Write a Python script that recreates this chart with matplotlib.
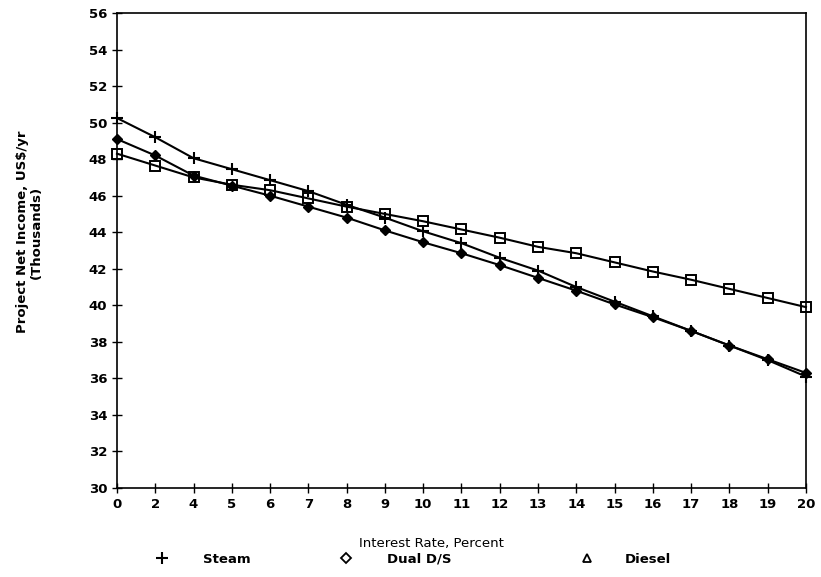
import matplotlib
matplotlib.use("Agg")
import matplotlib.pyplot as plt
from matplotlib.lines import Line2D

# interest rate categories (evenly spaced on the original chart)
rates = ["0", "2", "4", "5", "6", "7", "8", "9", "10", "11", "12",
         "13", "14", "15", "16", "17", "18", "19", "20"]

# project net income, thousands US$/yr
steam = [50.25, 49.2, 48.05, 47.45, 46.85, 46.25, 45.5, 44.8, 44.05, 43.4,
         42.6, 41.9, 41.0, 40.2, 39.4, 38.6, 37.8, 37.0, 36.1]
dual = [49.1, 48.2, 47.1, 46.55, 46.0, 45.4, 44.8, 44.1, 43.45, 42.85,
        42.2, 41.5, 40.8, 40.05, 39.35, 38.6, 37.8, 37.05, 36.3]
diesel = [48.3, 47.65, 47.0, 46.6, 46.3, 45.85, 45.4, 45.0, 44.6, 44.15,
          43.7, 43.2, 42.85, 42.35, 41.85, 41.4, 40.9, 40.4, 39.9]

y_ticks = list(range(30, 57, 2))

plt.rcParams["font.family"] = "DejaVu Sans"
plt.rcParams["font.weight"] = "bold"

fig = plt.figure(figsize=(8.21, 5.77), dpi=100)
ax = fig.add_axes([0.1425, 0.1542, 0.8392, 0.8233])

x = list(range(len(rates)))
ax.plot(x, steam, color="black", lw=1.5, marker="+", ms=9, mew=1.5, clip_on=False)
ax.plot(x, dual, color="black", lw=1.5, marker="D", ms=5, mfc="black", clip_on=False)
ax.plot(x, diesel, color="black", lw=1.5, marker="s", ms=6.5, mfc="none", mew=1.4, clip_on=False)

ax.set_xlim(0, len(rates) - 1)
ax.set_ylim(30, 56)
ax.set_xticks(x)
ax.set_xticklabels(rates)
ax.set_yticks(y_ticks)
ax.tick_params(direction="inout", length=7, width=1, labelsize=9.5, colors="black")
for lab in ax.get_xticklabels() + ax.get_yticklabels():
    lab.set_fontweight("bold")
for s in ax.spines.values():
    s.set_linewidth(1.2)

ax.set_xlabel("Interest Rate, Percent", fontsize=9.5, fontweight="normal", labelpad=19)
ax.xaxis.label.set_x(0.456)
ax.set_ylabel("Project Net Income, US$/yr\n(Thousands)", fontsize=9.5,
              fontweight="bold", labelpad=33, linespacing=1.1)
ax.yaxis.label.set_y(0.539)

# legend entries as drawn in the original (markers differ from plotted ones)
entries = [
    (Line2D([], [], ls="none", marker="+", ms=8, mew=1.5, color="black"), "Steam", 0.1745, 2.6),
    (Line2D([], [], ls="none", marker="D", ms=5, mfc="none", mew=1.3, color="black"), "Dual D/S", 0.3995, 2.6),
    (Line2D([], [], ls="none", marker="^", ms=6, mfc="none", mew=1.3, color="black"), "Diesel", 0.693, 2.35),
]
for h, lab, xpos, pad in entries:
    fig.legend(handles=[h], labels=[lab], loc="center left",
               bbox_to_anchor=(xpos, 0.031), frameon=False,
               prop={"weight": "bold", "size": 9.5},
               handlelength=1.0, handletextpad=pad)

fig.savefig("out.png", dpi=100, facecolor="white")
